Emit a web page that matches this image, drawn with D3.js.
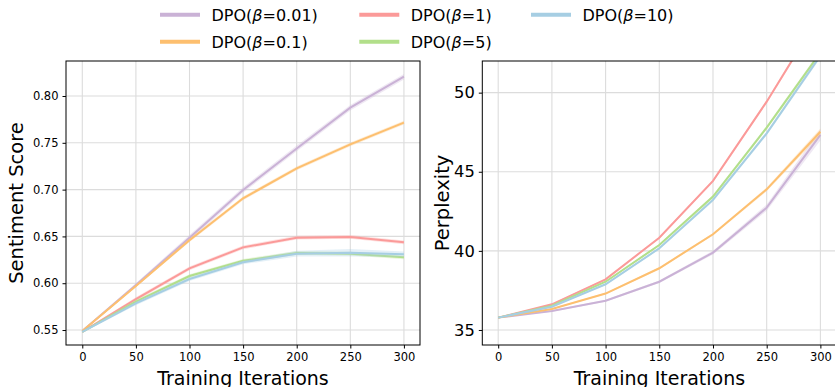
<!DOCTYPE html>
<html>
<head>
<meta charset="utf-8">
<script src="https://cdn.jsdelivr.net/npm/d3@7"></script>
<style>
	body { margin: 0; background: #fff; }
	svg { display: block; }
</style>
</head>
<body>
<svg id="chart"></svg>
<script>
// data
const iterations = [0, 50, 100, 150, 200, 250, 300]
const series_betas = ["0.01", "0.1", "1", "5", "10"]
const series_colors = ["#cab2d6", "#fdbf6f", "#fb9a99", "#b2df8a", "#a6cee3"]

const sentiment = [
	[0.549, 0.598, 0.6486, 0.6996, 0.744, 0.7875, 0.8206],
	[0.549, 0.597, 0.646, 0.6907, 0.7227, 0.7484, 0.7715],
	[0.548, 0.5831, 0.6159, 0.6383, 0.6486, 0.6494, 0.6437],
	[0.548, 0.5803, 0.6077, 0.624, 0.6323, 0.6315, 0.6277],
	[0.548, 0.5785, 0.6045, 0.6223, 0.6316, 0.6326, 0.6309]
]
const sentiment_std = [
	[0.001, 0.002, 0.003, 0.003, 0.003, 0.003, 0.003],
	[0.001, 0.001, 0.002, 0.002, 0.002, 0.002, 0.002],
	[0.001, 0.002, 0.002, 0.002, 0.002, 0.002, 0.002],
	[0.001, 0.002, 0.002, 0.002, 0.002, 0.002, 0.002],
	[0.001, 0.002, 0.002, 0.002, 0.003, 0.004, 0.003]
]

const perplexity = [
	[35.78, 36.2, 36.85, 38.05, 39.89, 42.73, 47.33],
	[35.78, 36.33, 37.3, 38.9, 41.05, 43.89, 47.53],
	[35.78, 36.62, 38.2, 40.83, 44.42, 49.43, 54.95],
	[35.78, 36.54, 38.05, 40.37, 43.43, 47.79, 52.53],
	[35.78, 36.47, 37.89, 40.16, 43.22, 47.43, 52.33]
]
const perplexity_std = [
	[0.02, 0.05, 0.06, 0.08, 0.12, 0.2, 0.35],
	[0.02, 0.04, 0.05, 0.06, 0.08, 0.12, 0.2],
	[0.02, 0.04, 0.05, 0.06, 0.08, 0.1, 0.15],
	[0.02, 0.04, 0.05, 0.07, 0.1, 0.12, 0.15],
	[0.02, 0.04, 0.05, 0.07, 0.1, 0.12, 0.15]
]

const x_ticks = [0, 50, 100, 150, 200, 250, 300]
const sentiment_ticks = [0.55, 0.60, 0.65, 0.70, 0.75, 0.80]
const perplexity_ticks = [35, 40, 45, 50]

const width = 835
const height = 387
const font = "'DejaVu Sans', sans-serif"

const svg = d3.select("#chart")
	.attr("width", width)
	.attr("height", height)

const panels = [
	{
		left: 66, right: 420, top: 61, bottom: 345,
		x_domain: [-15.2, 315], y_domain: [0.534, 0.8374],
		values: sentiment, std: sentiment_std, ticks: sentiment_ticks,
		tick_format: d3.format(".2f"), tick_size: "11.5px",
		label: "Sentiment Score", label_x: 23
	},
	{
		left: 482.3, right: 836.5, top: 61, bottom: 345,
		x_domain: [-14.8, 315], y_domain: [34.05, 52],
		values: perplexity, std: perplexity_std, ticks: perplexity_ticks,
		tick_format: d3.format("d"), tick_size: "16.3px",
		label: "Perplexity", label_x: 449
	}
]

panels.forEach((p, pi) => {
	const x = d3.scaleLinear().domain(p.x_domain).range([p.left, p.right])
	const y = d3.scaleLinear().domain(p.y_domain).range([p.bottom, p.top])
	const g = svg.append("g")

	g.append("clipPath")
		.attr("id", "clip" + pi)
		.append("rect")
		.attr("x", p.left).attr("y", p.top)
		.attr("width", p.right - p.left).attr("height", p.bottom - p.top)

	// grid
	g.selectAll(".vgrid")
		.data(x_ticks)
		.enter()
		.append("line")
		.attr("x1", d => x(d)).attr("x2", d => x(d))
		.attr("y1", p.top).attr("y2", p.bottom)
		.style("stroke", "#dcdcdc")
		.style("stroke-width", 1.1)
	g.selectAll(".hgrid")
		.data(p.ticks)
		.enter()
		.append("line")
		.attr("x1", p.left).attr("x2", p.right)
		.attr("y1", d => y(d)).attr("y2", d => y(d))
		.style("stroke", "#dcdcdc")
		.style("stroke-width", 1.1)

	const plot = g.append("g").attr("clip-path", `url(#clip${pi})`)

	const area = d3.area()
		.x((d, i) => x(iterations[i]))
		.y0(d => y(d[0] - d[1]))
		.y1(d => y(d[0] + d[1]))
	const line = d3.line()
		.x((d, i) => x(iterations[i]))
		.y(d => y(d))

	p.values.forEach((vals, si) => {
		plot.append("path")
			.attr("d", area(vals.map((v, i) => [v, p.std[si][i]])))
			.style("fill", series_colors[si])
			.style("opacity", 0.3)
		plot.append("path")
			.attr("d", line(vals))
			.style("fill", "none")
			.style("stroke", series_colors[si])
			.style("stroke-width", 2)
	})

	// axes
	const x_axis = g.append("g")
		.attr("transform", `translate(0,${p.bottom})`)
		.call(d3.axisBottom(x).tickValues(x_ticks).tickSize(3.5).tickPadding(4))
	x_axis.select(".domain").remove()
	x_axis.selectAll("text")
		.style("font-family", font)
		.style("font-size", "11.5px")
		.style("fill", "#000")

	const y_axis = g.append("g")
		.attr("transform", `translate(${p.left},0)`)
		.call(d3.axisLeft(y).tickValues(p.ticks).tickFormat(p.tick_format).tickSize(3.5).tickPadding(4))
	y_axis.select(".domain").remove()
	y_axis.selectAll("text")
		.style("font-family", font)
		.style("font-size", p.tick_size)
		.style("fill", "#000")

	// frame
	g.append("rect")
		.attr("x", p.left).attr("y", p.top)
		.attr("width", p.right - p.left).attr("height", p.bottom - p.top)
		.style("fill", "none")
		.style("stroke", "#000")
		.style("stroke-width", 1)

	g.append("text")
		.text("Training Iterations")
		.attr("x", (p.left + p.right) / 2)
		.attr("y", 385)
		.attr("text-anchor", "middle")
		.style("font-family", font)
		.style("font-size", "19px")

	g.append("text")
		.text(p.label)
		.attr("transform", `translate(${p.label_x},${(p.top + p.bottom) / 2}) rotate(-90)`)
		.attr("text-anchor", "middle")
		.style("font-family", font)
		.style("font-size", "19.5px")
})

// legend (column-major, 3 columns)
const legend_cols = [160, 359.3, 531]
const legend_rows = [14.7, 41.7]
const legend = svg.append("g")
series_betas.forEach((beta, i) => {
	const lx = legend_cols[Math.floor(i / 2)]
	const ly = legend_rows[i % 2]
	legend.append("line")
		.attr("x1", lx).attr("x2", lx + 40)
		.attr("y1", ly).attr("y2", ly)
		.style("stroke", series_colors[i])
		.style("stroke-width", 4)
	const t = legend.append("text")
		.attr("x", lx + 51.5)
		.attr("y", ly + 5.8)
		.style("font-family", font)
		.style("font-size", "16px")
	t.append("tspan").text("DPO(")
	t.append("tspan").text("β").style("font-style", "italic")
	t.append("tspan").text("=" + beta + ")")
})
</script>
</body>
</html>
